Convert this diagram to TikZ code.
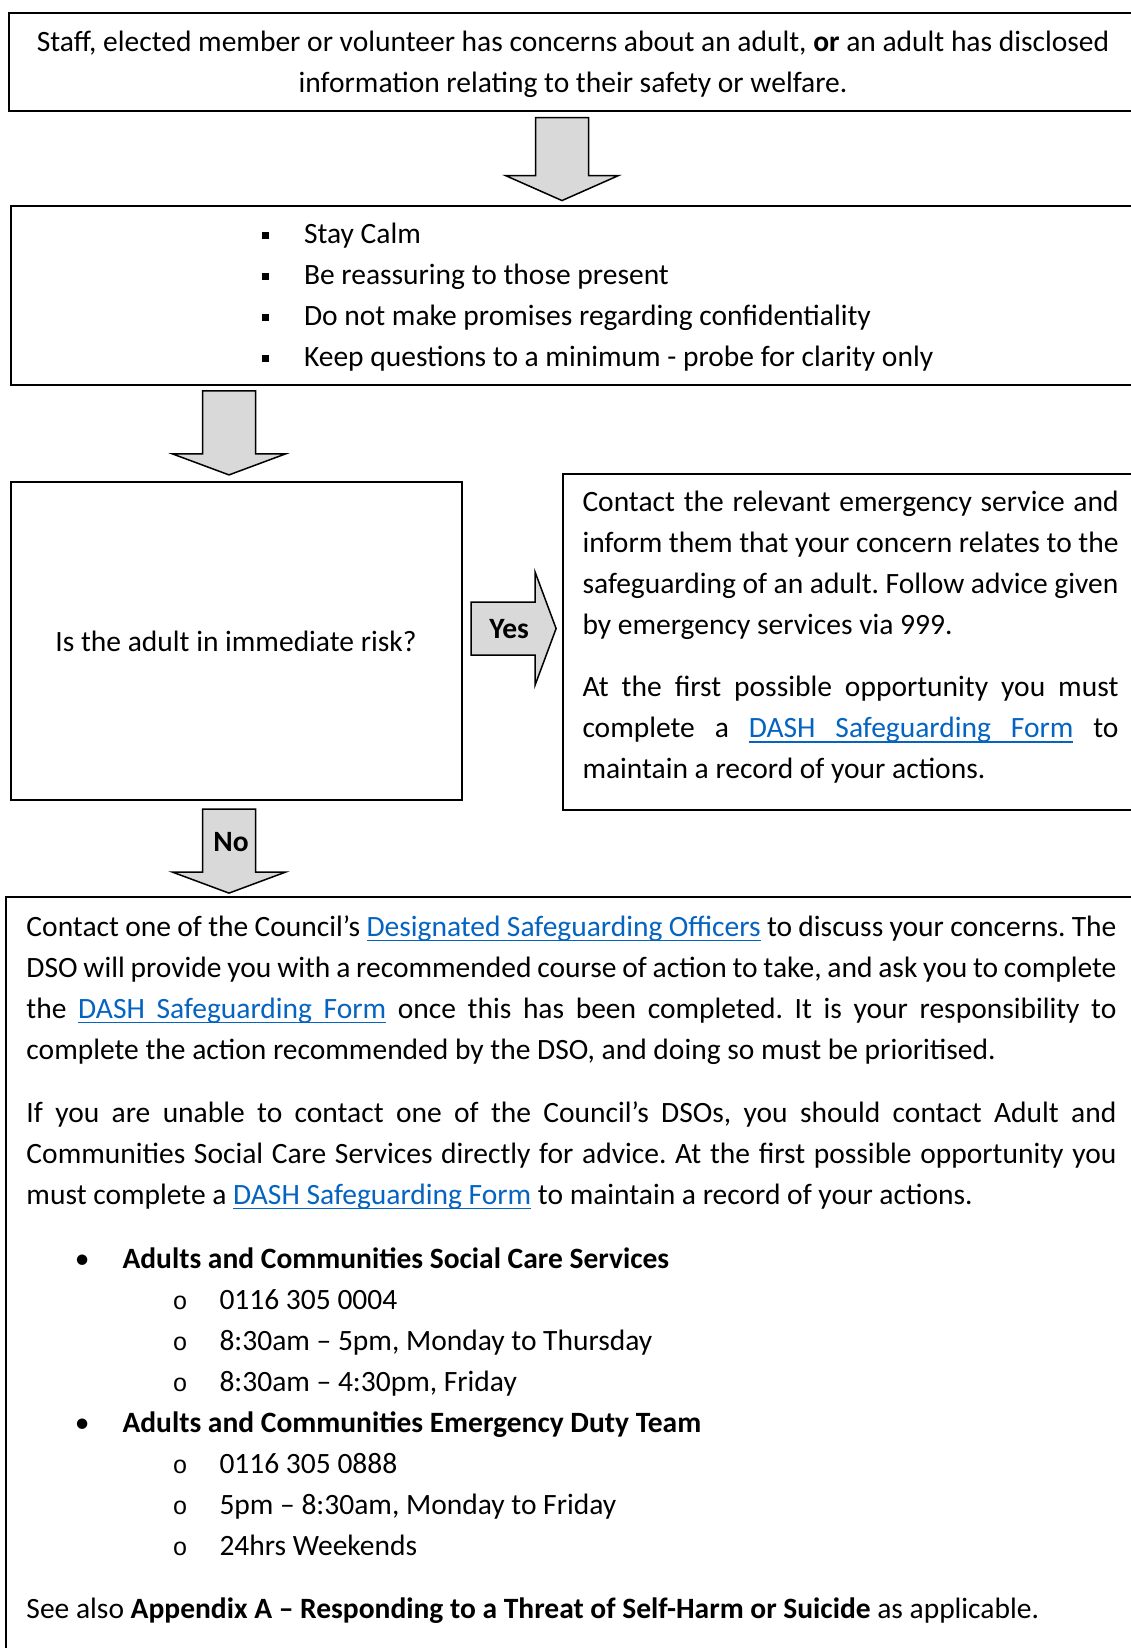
\documentclass[tikz,border=0pt]{standalone}
\usepackage{fontspec}
\setmainfont{Carlito}
\newfontfamily\bulletfont{Liberation Mono}
\usetikzlibrary{positioning,calc}
\definecolor{linkblue}{HTML}{0563C1}
\definecolor{arrowgrey}{HTML}{D9D9D9}
\setlength{\parindent}{0pt}
\frenchspacing
\hyphenpenalty=10000
\exhyphenpenalty=10000
\tolerance=10000
% underlined link words, the spaces between them stretch with the line
\newcommand{\ulword}[1]{\setbox0\hbox{#1}\rlap{\rule[-1.9pt]{\wd0}{0.5pt}}\box0}
\newcommand{\ulspace}{\leaders\hrule height -1.4pt depth 1.9pt\hskip\fontdimen2\font plus\fontdimen3\font minus\fontdimen4\font}
\newcommand{\dashlink}[1]{{\color{linkblue}#1}}
\newcommand{\dashform}{\dashlink{\ulword{DASH}\ulspace\ulword{Safeguarding}\ulspace\ulword{Form}}}
\newcommand{\dsolink}{\dashlink{\ulword{Designated}\ulspace\ulword{Safeguarding}\ulspace\ulword{Officers}}}
\newcommand{\sqbullet}{\makebox[17pt][l]{\rule[1.8pt]{2.8pt}{3pt}}}
\newcommand{\serviceitem}[1]{\makebox[38.4pt][l]{\hspace{19.3pt}\textbullet}\textbf{#1}}
\newcommand{\hoursitem}[1]{\makebox[77.2pt][l]{\hspace{58.4pt}{\bulletfont\fontsize{10}{16.4}\selectfont o}}#1}
% block arrows: start point, shaft length, head length
\newcommand{\downblock}[3]{\draw[blockarrow] (#1) ++(-26.5,0) -- ++(53,0) -- ++(0,#2)
  -- ++(30,0) -- ++(-56.5,#3) -- ++(-56.5,-#3) -- ++(30,0) -- cycle;}
\tikzset{
  flowbox/.style  = {draw, line width=0.8pt, rectangle, inner sep=0pt, anchor=north west},
  boxtext/.style  = {inner sep=0pt, font=\fontsize{11.8}{16.4}\selectfont},
  bodytext/.style = {boxtext, anchor=north west, align=justify},
  blockarrow/.style = {draw, line width=0.6pt, fill=arrowgrey, line join=miter},
  arrowlabel/.style = {inner sep=0pt, font=\fontsize{11.8}{16.4}\selectfont\bfseries}
}

\begin{document}
\begin{tikzpicture}[x=0.4pt, y=-0.4pt]
  \useasboundingbox (0,0) rectangle (1131,1648);
  \clip (0,0) rectangle (1131,1648);
  % the boxes of the flow
  \node[flowbox, minimum width=452.6pt, minimum height=39.5pt] (concern) at (8.4,11.6) {};
  \node[flowbox, minimum width=452.2pt, minimum height=71.4pt] (calm) at (9.5,205) {};
  \node[flowbox, minimum width=180.4pt, minimum height=127pt] (risk) at (9.5,481.4) {};
  \node[flowbox, minimum width=233.2pt, minimum height=134.4pt] (emergency) at (562,473) {};
  \node[flowbox, minimum width=456pt, minimum height=321.8pt] (dso) at (5.3,895.5) {};

  % texts inside the boxes
  \node[boxtext, align=center] (concerntext) at (573,64)
    {Staff, elected member or volunteer has concerns about an adult, \textbf{or} an adult has disclosed\\
     information relating to their safety or welfare.};
  \node[boxtext, align=left, anchor=north west] (calmlist) at (261,223)
    {\sqbullet Stay Calm\\ \sqbullet Be reassuring to those present\\
     \sqbullet Do not make promises regarding confidentiality\\
     \sqbullet Keep questions to a minimum - probe for clarity only};
  \node[boxtext] (risktext) at (risk.center) {Is the adult in immediate risk?};
  \node[bodytext, text width=214.4pt] (emergencytext) at (582,491)
    {Contact the relevant emergency service and\linebreak inform them that your concern relates to the\linebreak
     safeguarding of an adult. Follow advice given\linebreak by emergency services via 999.\par\vspace{8.4pt}
     At the first possible opportunity you must\linebreak complete a \dashform{} to\linebreak
     maintain a record of your actions.};
  \node[bodytext, text width=436pt] (dsotext) at (26,915)
    {Contact one of the Council’s \dsolink{} to discuss your concerns. The\linebreak
     DSO will provide you with a recommended course of action to take, and ask you to complete\linebreak
     the \dashform{} once this has been completed. It is your responsibility to\linebreak
     complete the action recommended by the DSO, and doing so must be prioritised.\par\vspace{8.8pt}
     If you are unable to contact one of the Council’s DSOs, you should contact Adult and\linebreak
     Communities Social Care Services directly for advice. At the first possible opportunity you\linebreak
     must complete a \dashform{} to maintain a record of your actions.\par\vspace{9.2pt}
     \serviceitem{Adults and Communities Social Care Services}\par
     \hoursitem{0116 305 0004}\par
     \hoursitem{8:30am – 5pm, Monday to Thursday}\par
     \hoursitem{8:30am – 4:30pm, Friday}\par
     \serviceitem{Adults and Communities Emergency Duty Team}\par
     \hoursitem{0116 305 0888}\par
     \hoursitem{5pm – 8:30am, Monday to Friday}\par
     \hoursitem{24hrs Weekends}\par\vspace{8.8pt}
     See also \textbf{Appendix A – Responding to a Threat of Self-Harm or Suicide} as applicable.};

  % block arrows between the boxes
  \coordinate (toparrow) at ($(concern.south west)+(553.6,5.2)$);
  \coordinate (midarrow) at ($(calm.south west)+(219.5,5.4)$);
  \coordinate (noarrow) at ($(risk.south west)+(219.5,8.2)$);
  \coordinate (yesarrow) at ($(risk.east)+(8.6,-12.6)$);
  \downblock{toparrow}{58}{25}
  \downblock{midarrow}{63}{21}
  \downblock{noarrow}{63}{21}
  \draw[blockarrow] (yesarrow) ++(0,-26.5) -- ++(64,0) -- ++(0,-30) -- ++(21,56.5)
    -- ++(-21,56.5) -- ++(0,-30) -- ++(-64,0) -- cycle;
  \node[arrowlabel] (yes) at ($(yesarrow)+(38,0.5)$) {Yes};
  \node[arrowlabel] (no) at ($(noarrow)+(2,33)$) {No};
\end{tikzpicture}
\end{document}
